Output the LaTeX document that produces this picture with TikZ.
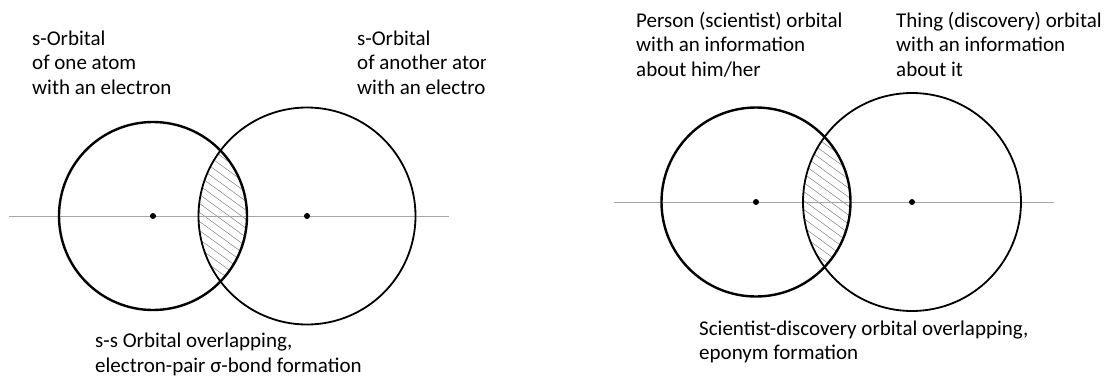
\documentclass[tikz,border=0pt]{standalone}
\usepackage{fontspec}
\setmainfont{Carlito}
\usepackage{tikz}
\tikzset{
  lbl/.style={anchor=base west, align=left, inner sep=0pt, font=\fontsize{21}{24.5}\selectfont},
  orb/.style={draw=black, line width=1.8pt},
  orbin/.style={orb, line width=2.4pt},
  axis/.style={draw=black!35, line width=1pt},
  hatch/.style={draw=black!50, line width=0.5pt},
  dot/.style={fill=black},
}

\begin{document}
\begin{tikzpicture}[x=1pt, y=-1pt]
\useasboundingbox (0,0) rectangle (1104,378);
% atom orbitals
\coordinate (a1) at (153,216);
\coordinate (a2) at (307,216);
\coordinate (aw) at (9,216);
\coordinate (ae) at (449,216);
\begin{scope}
  \clip (a1) circle[radius=94];
  \clip (a2) circle[radius=108.5];
  \foreach \k in {0,...,24}
    \draw[hatch] (185,{85+9*\k}) -- ++(80,58);
\end{scope}
\draw[axis] (aw) -- (ae);
\draw[orbin] (a1) circle[radius=94];
\draw[orb] (a2) circle[radius=108.5];
\fill[dot] (a1) circle[radius=3];
\fill[dot] (a2) circle[radius=3];
% base anchor sits on the last line
\node[lbl] (t1) at (32,94) {s-Orbital\\of one atom\\with an electron};
\begin{scope}
  \clip (0,0) rectangle (485,378);
  \node[lbl] (t2) at (357,94) {s-Orbital\\of another atom\\with an electron};
\end{scope}
\node[lbl] (t3) at (95,372) {s-s Orbital overlapping,\\electron-pair σ-bond formation};
% scientist / discovery orbitals
\coordinate (p1) at (756,202);
\coordinate (p2) at (912,202);
\coordinate (pw) at (614,202);
\coordinate (pe) at (1054,202);
\begin{scope}
  \clip (p1) circle[radius=94.5];
  \clip (p2) circle[radius=109];
  \foreach \k in {0,...,24}
    \draw[hatch] (785,{70+9*\k}) -- ++(80,58);
\end{scope}
\draw[axis] (pw) -- (pe);
\draw[orbin] (p1) circle[radius=94.5];
\draw[orb] (p2) circle[radius=109];
\fill[dot] (p1) circle[radius=3];
\fill[dot] (p2) circle[radius=3];
\node[lbl] (s1) at (636,76) {Person (scientist) orbital\\with an information\\about him/her};
\node[lbl] (s2) at (896,76) {Thing (discovery) orbital\\with an information\\about it};
\node[lbl] (s3) at (699,359.5) {Scientist-discovery orbital overlapping,\\eponym formation};
\end{tikzpicture}
\end{document}
